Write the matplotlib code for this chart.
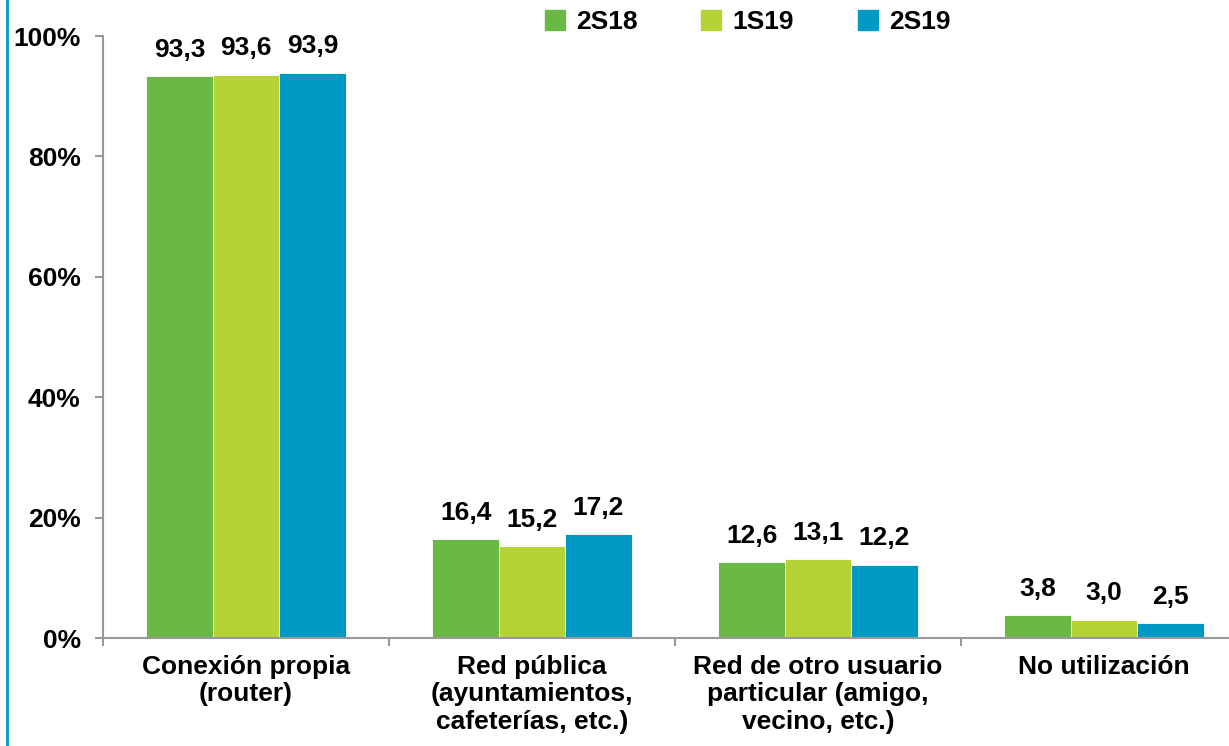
import matplotlib
matplotlib.use('Agg')
import matplotlib.pyplot as plt
from matplotlib.lines import Line2D
import numpy as np

plt.rcParams['font.family'] = ['Liberation Sans', 'DejaVu Sans']
plt.rcParams['font.weight'] = 'bold'

categories = ['Conexión propia\n(router)',
              'Red pública\n(ayuntamientos,\ncafeterías, etc.)',
              'Red de otro usuario\nparticular (amigo,\nvecino, etc.)',
              'No utilización']
series = ['2S18', '1S19', '2S19']
v_2s18 = [93.3, 16.4, 12.6, 3.8]
v_1s19 = [93.6, 15.2, 13.1, 3.0]
v_2s19 = [93.9, 17.2, 12.2, 2.5]
values = [v_2s18, v_1s19, v_2s19]
colors = ['#6ab945', '#b5d334', '#0099c6']
yticks = [0, 20, 40, 60, 80, 100]

fig = plt.figure(figsize=(12.29, 7.46), dpi=100)
ax = fig.add_axes([103 / 1229, 108 / 746, 1126 / 1229, 602 / 746])

x = np.arange(len(categories))
w = 0.232
for i, (vals, col) in enumerate(zip(values, colors)):
    pos = x + (i - 1) * w
    ax.bar(pos, vals, width=w, color=col, edgecolor='white', linewidth=0.6,
           label=series[i], zorder=2)
    for px, v in zip(pos, vals):
        ax.text(px, v + 2.4, f'{v:.1f}'.replace('.', ','), ha='center', va='bottom',
                fontsize=19, fontweight='bold')

ax.set_xlim(-0.5, -0.5 + 1126 / 286)
ax.set_ylim(0, 100)
ax.set_yticks(yticks)
ax.set_yticklabels([f'{t}%' for t in yticks], fontsize=19, fontweight='bold')

ax.set_xticks(x)
ax.set_xticklabels(categories, fontsize=19, fontweight='bold', linespacing=1.2)
ax.tick_params(axis='x', length=0, pad=12)
ax.set_xticks(np.arange(len(categories)) - 0.5, minor=True)
ax.tick_params(axis='x', which='minor', length=6, color='#999999', width=1.5)
ax.tick_params(axis='y', length=6, color='#999999', width=1.5, pad=10)

for s in ['top', 'right']:
    ax.spines[s].set_visible(False)
for s in ['left', 'bottom']:
    ax.spines[s].set_color('#999999')
    ax.spines[s].set_linewidth(1.5)
ax.spines['bottom'].set_zorder(3)

handles = [Line2D([], [], marker='s', linestyle='None', markersize=15,
                  markerfacecolor=c, markeredgecolor=c) for c in colors]
fig.legend(handles, series, loc='center', bbox_to_anchor=(746 / 1229, 1 - 22 / 746),
           ncol=3, frameon=False, fontsize=19, handletextpad=0.3, columnspacing=2.3,
           handlelength=1.0)

fig.add_artist(Line2D([7 / 1229, 7 / 1229], [0, 1], color='#0099cc', linewidth=2,
                      transform=fig.transFigure))

fig.savefig('out.png', dpi=100)
